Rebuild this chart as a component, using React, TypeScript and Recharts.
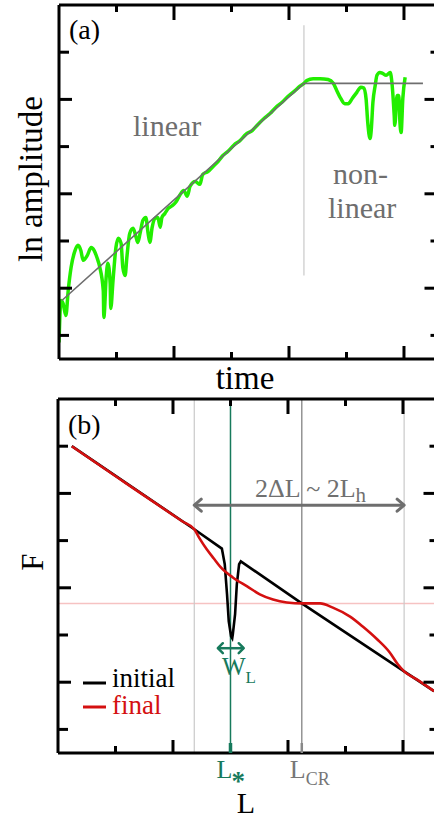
import React from 'react';
import { ComposedChart, Line, XAxis, YAxis, ReferenceLine } from 'recharts';

// ---------------- Panel (a): ln amplitude vs time ----------------
const timeTicks = [1, 2, 3, 4, 5, 6];
const ampTicks = [1, 2, 3, 4, 5, 6, 7];

const signalTime = [
  0.0, 0.035, 0.07, 0.12, 0.16, 0.21, 0.28, 0.33, 0.38, 0.42, 0.49, 0.56, 0.61, 0.66, 0.71,
  0.77, 0.78, 0.82, 0.85, 0.89, 0.9, 0.94, 0.99, 1.03, 1.08, 1.11, 1.15, 1.18, 1.23, 1.29,
  1.34, 1.37, 1.41, 1.46, 1.51, 1.55, 1.58, 1.62, 1.67, 1.72, 1.76, 1.79, 1.84, 1.9, 1.97,
  2.03, 2.1, 2.17, 2.23, 2.28, 2.37, 2.45, 2.5, 2.59, 2.68, 2.77, 2.85, 2.94, 3.04, 3.15,
  3.25, 3.36, 3.46, 3.57, 3.67, 3.77, 3.88, 3.98, 4.09, 4.19, 4.26, 4.31, 4.42, 4.54, 4.68,
  4.77, 4.83, 4.9, 4.97, 5.03, 5.1, 5.18, 5.25, 5.3, 5.34, 5.37, 5.41, 5.43, 5.46, 5.5,
  5.53, 5.58, 5.63, 5.69, 5.76, 5.79, 5.83, 5.84, 5.88, 5.91, 5.93, 5.95, 5.98, 6.02,
];
const signalLnAmp = [
  0.85, 1.74, 1.68, 1.42, 1.95, 2.44, 2.8, 2.91, 2.8, 2.59, 2.69, 2.86, 2.8, 2.65, 2.44,
  1.95, 1.38, 2.23, 2.53, 2.1, 1.57, 2.17, 2.86, 3.06, 2.95, 2.44, 2.27, 2.65, 3.16, 3.27,
  3.08, 2.97, 3.16, 3.44, 3.5, 3.16, 2.97, 3.29, 3.48, 3.5, 3.29, 3.5, 3.58, 3.69, 3.75,
  3.82, 3.97, 4.07, 3.95, 4.16, 4.26, 4.2, 4.41, 4.47, 4.58, 4.69, 4.81, 4.9, 5.03, 5.13,
  5.26, 5.34, 5.47, 5.6, 5.7, 5.83, 5.94, 6.06, 6.17, 6.28, 6.34, 6.4, 6.44, 6.44, 6.42,
  6.34, 6.19, 6.02, 5.91, 5.91, 6.02, 6.15, 6.26, 6.24, 6.02, 5.51, 5.17, 5.34, 5.94, 6.3,
  6.51, 6.57, 6.55, 6.51, 6.57, 6.36, 5.66, 5.45, 6.08, 6.08, 5.51, 5.3, 6.02, 6.47,
];

const fitTime = [0.05, 4.26, 6.33];
const fitLnAmp = [1.74, 6.34, 6.34];
const transitionTime = 4.26;
const transitionSpan = [2.27, 7.57];

// ---------------- Panel (b): F vs L ----------------
const LTicksTop = [1, 2, 3, 4, 5, 6];
const Lstar = 3.0;
const Lcr = 4.24;
const LTicksBottom = [1, 2, Lstar, 4, Lcr, 5, 6];
const FTicks = [1, 2, 3, 4, 5, 6, 7];

const initialL = [0.24, 2.37, 2.85, 2.9, 2.94, 2.97, 3.01, 3.03, 3.04, 3.08, 3.11, 3.15, 3.18, 4.24, 6.02, 6.54];
const initialF = [7.0, 5.24, 4.83, 4.5, 3.86, 3.29, 2.97, 2.93, 3.01, 3.44, 4.07, 4.5, 4.56, 3.67, 2.23, 1.81];

const finalL = [0.24, 1.08, 2.16, 2.37, 2.47, 2.59, 2.71, 2.82, 3.04, 3.29, 3.51, 3.74, 3.98, 4.26, 4.56, 4.78, 5.08, 5.3, 5.55, 5.77, 5.91, 6.02, 6.24, 6.54];
const finalF = [7.0, 6.3, 5.41, 5.24, 5.03, 4.81, 4.62, 4.45, 4.22, 4.03, 3.86, 3.75, 3.69, 3.67, 3.67, 3.58, 3.39, 3.18, 2.91, 2.63, 2.38, 2.23, 2.06, 1.81];

const regionL = [2.37, 6.02];
const Fcr = 3.67;
const deltaArrowF = 5.75;
const widthL = [2.78, 3.23];
const widthArrowF = 2.72;

const seriesLabels = ['initial', 'final'];

// ---------------- styling ----------------
const SERIF = 'Liberation Serif';
const GREEN = '#22ee00';
const RED = '#d41010';
const TEAL = '#177a5c';
const GREY = '#6e6e6e';
const LIGHT = '#c9c9c9';

const zip = (xs: number[], ys: number[]) => xs.map((x, i) => ({ x, y: ys[i] }));

const isMajor = (v: number) => Math.abs(v - Math.round(v)) < 1e-6 && Math.round(v) % 2 === 0;

const BottomTick = (props: any) => {
  const { x, y, payload } = props;
  const len = isMajor(payload.value) ? 13 : 7;
  return <line x1={x} y1={y} x2={x} y2={y - len} stroke="#000" strokeWidth={3} />;
};
const TopTick = (props: any) => {
  const { x, y, payload } = props;
  const len = isMajor(payload.value) ? 15 : 7;
  return <line x1={x} y1={y} x2={x} y2={y + len} stroke="#000" strokeWidth={3} />;
};
const LeftTick = (props: any) => {
  const { x, y, payload } = props;
  const len = isMajor(payload.value) ? 13 : 10;
  return <line x1={x} y1={y} x2={x + len} y2={y} stroke="#000" strokeWidth={3} />;
};
const RightTick = (props: any) => {
  const { x, y, payload } = props;
  const len = isMajor(payload.value) ? 13 : 7;
  return <line x1={x} y1={y} x2={x - len} y2={y} stroke="#000" strokeWidth={3} />;
};
const BottomTickB = (props: any) => {
  const { x, y, payload } = props;
  const v = payload.value;
  if (v === Lstar) {
    return (
      <g>
        <line x1={x} y1={y} x2={x} y2={y - 10} stroke={TEAL} strokeWidth={3.5} />
        <text x={x - 14} y={y + 25} fill={TEAL} style={{ fontFamily: SERIF }} fontSize={26}>
          L<tspan fontSize={27} fontWeight="bold" dx={-1} dy={12}>*</tspan>
        </text>
      </g>
    );
  }
  if (v === Lcr) {
    return (
      <g>
        <line x1={x} y1={y} x2={x} y2={y - 10} stroke="#888" strokeWidth={2.5} />
        <text x={x - 12} y={y + 25} fill="#777" style={{ fontFamily: SERIF }} fontSize={26}>
          L<tspan fontSize={18} dy={7}>CR</tspan>
        </text>
      </g>
    );
  }
  return <BottomTick {...props} />;
};

const makeArrow = (color: string, width: number, hx: number, hy: number) => (p: any) => {
  const { x1, y1, x2 } = p;
  const l = Math.min(x1, x2);
  const r = Math.max(x1, x2);
  const y = y1;
  return (
    <g>
      <line x1={l} y1={y} x2={r} y2={y} stroke={color} strokeWidth={width} />
      <polyline points={`${l + hx},${y - hy} ${l},${y} ${l + hx},${y + hy}`} fill="none" stroke={color} strokeWidth={width} strokeLinecap="round" strokeLinejoin="round" />
      <polyline points={`${r - hx},${y - hy} ${r},${y} ${r - hx},${y + hy}`} fill="none" stroke={color} strokeWidth={width} strokeLinecap="round" strokeLinejoin="round" />
    </g>
  );
};

const axisLine = { stroke: '#000', strokeWidth: 3 };

const Frame = ({ xTop, xBottom, yTicks, bottomTick }: any) => [
  <XAxis key="xb" xAxisId={0} type="number" dataKey="x" domain={[0, 6.583]} allowDataOverflow ticks={xBottom} interval={0}
    height={1} tickSize={0} tickMargin={0} axisLine={axisLine} tickLine={false} tick={bottomTick} orientation="bottom" />,
  <XAxis key="xt" xAxisId="top" type="number" dataKey="x" domain={[0, 6.583]} allowDataOverflow ticks={xTop} interval={0}
    height={1} tickSize={0} tickMargin={0} axisLine={axisLine} tickLine={false} tick={TopTick} orientation="top" />,
  <YAxis key="yl" yAxisId={0} type="number" domain={[0.5, 8]} allowDataOverflow ticks={yTicks} interval={0}
    width={1} tickSize={0} tickMargin={0} axisLine={axisLine} tickLine={false} tick={LeftTick} orientation="left" />,
  <YAxis key="yr" yAxisId="right" type="number" domain={[0.5, 8]} allowDataOverflow ticks={yTicks} interval={0}
    width={1} tickSize={0} tickMargin={0} axisLine={axisLine} tickLine={false} tick={RightTick} orientation="right" />,
];

export default function App() {
  const signal = zip(signalTime, signalLnAmp);
  const fit = zip(fitTime, fitLnAmp);
  const initial = zip(initialL, initialF);
  const final = zip(finalL, finalF);

  return (
    <div style={{ position: 'absolute', left: 0, top: 0, width: 434, height: 818, overflow: 'hidden', background: '#fff', fontFamily: SERIF }}>
      <div style={{ position: 'absolute', left: 0, top: 0 }}>
        <ComposedChart width={440} height={362} margin={{ top: 4, right: 1.5, bottom: 2, left: 58 }}>
          {Frame({ xTop: timeTicks, xBottom: timeTicks, yTicks: ampTicks, bottomTick: BottomTick })}
          <ReferenceLine segment={[{ x: transitionTime, y: transitionSpan[0] }, { x: transitionTime, y: transitionSpan[1] }]} stroke={LIGHT} strokeWidth={1.2} />
          <Line data={signal} dataKey="y" type="monotone" stroke={GREEN} strokeWidth={3.5} dot={false} isAnimationActive={false} />
          <Line data={fit} dataKey="y" type="linear" stroke={GREY} strokeWidth={1.6} dot={false} isAnimationActive={false} />
        </ComposedChart>
      </div>
      <div style={{ position: 'absolute', left: 0, top: 394 }}>
        <ComposedChart width={440} height={424} margin={{ top: 4, right: 2.5, bottom: 64, left: 57 }}>
          {Frame({ xTop: LTicksTop, xBottom: LTicksBottom, yTicks: FTicks, bottomTick: BottomTickB })}
          <ReferenceLine y={Fcr} stroke="#f6c2c2" strokeWidth={1.5} />
          <ReferenceLine x={regionL[0]} stroke={LIGHT} strokeWidth={1.2} />
          <ReferenceLine x={regionL[1]} stroke={LIGHT} strokeWidth={1.2} />
          <ReferenceLine x={Lcr} stroke="#8c8c8c" strokeWidth={1.4} />
          <ReferenceLine x={Lstar} stroke={TEAL} strokeWidth={1.5} />
          <ReferenceLine segment={[{ x: regionL[0], y: deltaArrowF }, { x: regionL[1], y: deltaArrowF }]} shape={makeArrow(GREY, 3, 7, 6)} />
          <ReferenceLine segment={[{ x: widthL[0], y: widthArrowF }, { x: widthL[1], y: widthArrowF }]} shape={makeArrow(TEAL, 2.5, 5, 5)} />
          <Line data={initial} dataKey="y" type="linear" stroke="#000" strokeWidth={2.6} dot={false} isAnimationActive={false} />
          <Line data={final} dataKey="y" type="monotone" stroke={RED} strokeWidth={2.6} dot={false} isAnimationActive={false} />
        </ComposedChart>
      </div>
      <svg width={434} height={818} style={{ position: 'absolute', left: 0, top: 0, pointerEvents: 'none', fontFamily: SERIF }}>
        <text x={69} y={39} fontSize={28} fill="#000">(a)</text>
        <text x={133} y={136} fontSize={30} fill={GREY}>linear</text>
        <text x={333} y={184} fontSize={30} fill={GREY}>non-</text>
        <text x={328} y={218} fontSize={30} fill={GREY}>linear</text>
        <text transform="translate(42,179) rotate(-90)" textAnchor="middle" fontSize={33} fill="#000">ln amplitude</text>
        <text x={245} y={389} textAnchor="middle" fontSize={33} fill="#000">time</text>

        <text x={68} y={434} fontSize={28} fill="#000">(b)</text>
        <text x={255} y={497} fontSize={26} fill="#707070">2ΔL ~ 2L<tspan fontSize={21} dy={5}>h</tspan></text>
        <text transform="translate(43,562) rotate(-90)" textAnchor="middle" fontSize={31} fill="#000">F</text>
        <text x={222} y={675} fontSize={25} fill={TEAL}>W<tspan fontSize={17} dy={8}>L</tspan></text>
        <line x1={83} y1={683} x2={106} y2={683} stroke="#000" strokeWidth={3} />
        <text x={112} y={687} fontSize={27} fill="#000">{seriesLabels[0]}</text>
        <line x1={83} y1={707} x2={106} y2={707} stroke={RED} strokeWidth={3} />
        <text x={112} y={714} fontSize={27} fill={RED}>{seriesLabels[1]}</text>
        <text x={246} y={813} textAnchor="middle" fontSize={30} fill="#000">L</text>
      </svg>
    </div>
  );
}
